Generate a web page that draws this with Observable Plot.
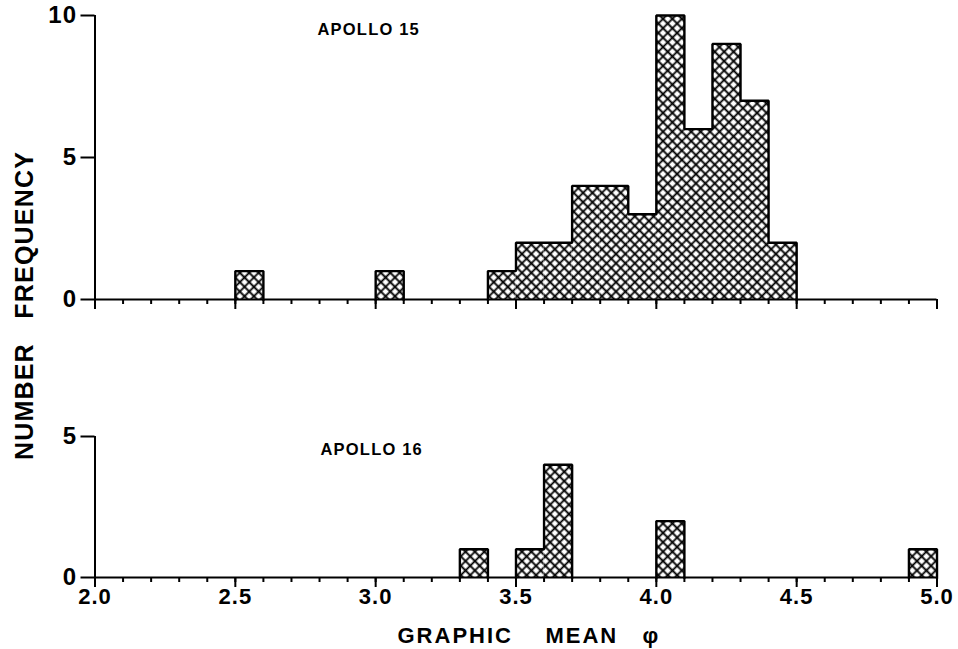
<!DOCTYPE html>
<html>
<head>
<meta charset="utf-8">
<script src="https://cdn.jsdelivr.net/npm/d3@7"></script>
<script src="https://cdn.jsdelivr.net/npm/@observablehq/plot@0.6"></script>
<style>
  html, body { margin: 0; padding: 0; background: white; }
  #chart { position: relative; width: 958px; height: 649px; overflow: hidden; }
  #chart > svg { position: absolute; left: 0; }
</style>
</head>
<body>
<svg width="0" height="0" style="position:absolute">
  <defs>
    <pattern id="xhatch" width="6.65" height="6.65" patternUnits="userSpaceOnUse" patternTransform="rotate(45)">
      <rect width="6.65" height="6.65" fill="white"></rect>
      <path d="M0,3.325H6.65M3.325,0V6.65" stroke="black" stroke-width="1.8" fill="none"></path>
    </pattern>
  </defs>
</svg>
<div id="chart"></div>
<script>
// ---- data ----
const binWidth = 0.1;
const apollo15Start = [2.5, 3.0, 3.4, 3.5, 3.6, 3.7, 3.8, 3.9, 4.0, 4.1, 4.2, 4.3, 4.4];
const apollo15Count = [1, 1, 1, 2, 2, 4, 4, 3, 10, 6, 9, 7, 2];
const apollo16Start = [3.3, 3.5, 3.6, 4.0, 4.9];
const apollo16Count = [1, 1, 4, 2, 1];

const xMajorTicks = [2.0, 2.5, 3.0, 3.5, 4.0, 4.5, 5.0];
const xMinorTicks = d3.range(20, 51).map(d => d / 10);
const yTicksTop = [0, 5, 10];
const yTicksBottom = [0, 5];

const panelLabels = ["APOLLO 15", "APOLLO 16"];
const yLabel = "NUMBER   FREQUENCY";
const xLabel = "GRAPHIC    MEAN   φ";

// ---- helpers ----
function bars(starts, counts) {
  return starts.map((s, i) => ({x1: s, x2: +(s + binWidth).toFixed(2), n: counts[i]}));
}
function outline(starts, counts) {
  const pts = [];
  let run = 0;
  starts.forEach((s, i) => {
    const e = +(s + binWidth).toFixed(2);
    const prevEnd = i > 0 ? +(starts[i - 1] + binWidth).toFixed(2) : null;
    const contiguous = prevEnd !== null && Math.abs(prevEnd - s) < 1e-9;
    if (!contiguous) { run++; pts.push({x: s, y: 0, run}); }
    pts.push({x: s, y: counts[i], run});
    pts.push({x: e, y: counts[i], run});
    const nextStart = i < starts.length - 1 ? starts[i + 1] : null;
    if (nextStart === null || Math.abs(nextStart - e) > 1e-9) pts.push({x: e, y: 0, run});
  });
  return pts;
}

const font = "'Liberation Sans', Arial, Helvetica, sans-serif";
const common = {
  width: 958,
  marginLeft: 94.5,
  marginRight: 21.5,
  x: {domain: [2, 5]},
  style: {fontFamily: font, fontWeight: "bold", background: "none", overflow: "visible", color: "black", letterSpacing: "1px"}
};

function panelMarks(starts, counts, yMax, yTicks, showLabels) {
  return [
    Plot.rectY(bars(starts, counts), {x1: "x1", x2: "x2", y1: 0, y2: "n", fill: "url(#xhatch)"}),
    Plot.line(outline(starts, counts), {x: "x", y: "y", z: "run", stroke: "black", strokeWidth: 2.4, strokeLinejoin: "miter", strokeLinecap: "square"}),
    Plot.ruleY([0], {x1: 2, x2: 5, stroke: "black", strokeWidth: 2}),
    Plot.ruleX([2], {y1: 0, y2: yMax, stroke: "black", strokeWidth: 2}),
    Plot.axisX(xMinorTicks, {tickSize: 5, strokeWidth: 2, tickFormat: () => "", label: null}),
    showLabels
      ? Plot.axisX(xMajorTicks, {tickSize: 10, tickPadding: 1, strokeWidth: 2, fontSize: 22, tickFormat: d3.format(".1f"), label: null})
      : Plot.axisX(xMajorTicks, {tickSize: 10, strokeWidth: 2, tickFormat: () => "", label: null}),
    Plot.axisY(yTicks, {tickSize: 14, tickPadding: 4, strokeWidth: 2, fontSize: 24, tickFormat: d3.format("d"), label: null})
  ];
}

const topPlot = Plot.plot({
  ...common,
  height: 320,
  marginTop: 15,
  marginBottom: 21,
  y: {domain: [0, 10]},
  marks: [
    ...panelMarks(apollo15Start, apollo15Count, 10, yTicksTop, false),
    Plot.text([panelLabels[0]], {text: d => d, frameAnchor: "top-left", dx: 222.5, dy: 14, textAnchor: "start", lineAnchor: "middle", fontSize: 16.5}),
    Plot.text([yLabel], {text: d => d, frameAnchor: "left", rotate: -90, dx: -70.5, dy: 148, fontSize: 25, textAnchor: "middle", lineAnchor: "middle"})
  ]
});

const bottomPlot = Plot.plot({
  ...common,
  height: 229,
  marginTop: 16,
  marginBottom: 72,
  y: {domain: [0, 5]},
  marks: [
    ...panelMarks(apollo16Start, apollo16Count, 5, yTicksBottom, true),
    Plot.text([panelLabels[1]], {text: d => d, frameAnchor: "top-left", dx: 225.5, dy: 13, textAnchor: "start", lineAnchor: "middle", fontSize: 16.5}),
    Plot.text([xLabel], {text: d => d, frameAnchor: "bottom-left", dx: 302.5, dy: 58, textAnchor: "start", lineAnchor: "middle", fontSize: 22})
  ]
});

// letter spacing tweaks for the label texts
const spacing = new Map([[yLabel, "1.2px"], [xLabel, "2px"], [panelLabels[0], "1.2px"], [panelLabels[1], "1.2px"]]);
for (const svg of [topPlot, bottomPlot]) {
  d3.select(svg).selectAll("text").each(function () {
    const s = spacing.get(this.textContent);
    if (s) this.style.letterSpacing = s;
  });
}

const chart = document.getElementById("chart");
bottomPlot.style.top = "420px";
topPlot.style.top = "0px";
chart.appendChild(bottomPlot);
chart.appendChild(topPlot);
</script>
</body>
</html>
